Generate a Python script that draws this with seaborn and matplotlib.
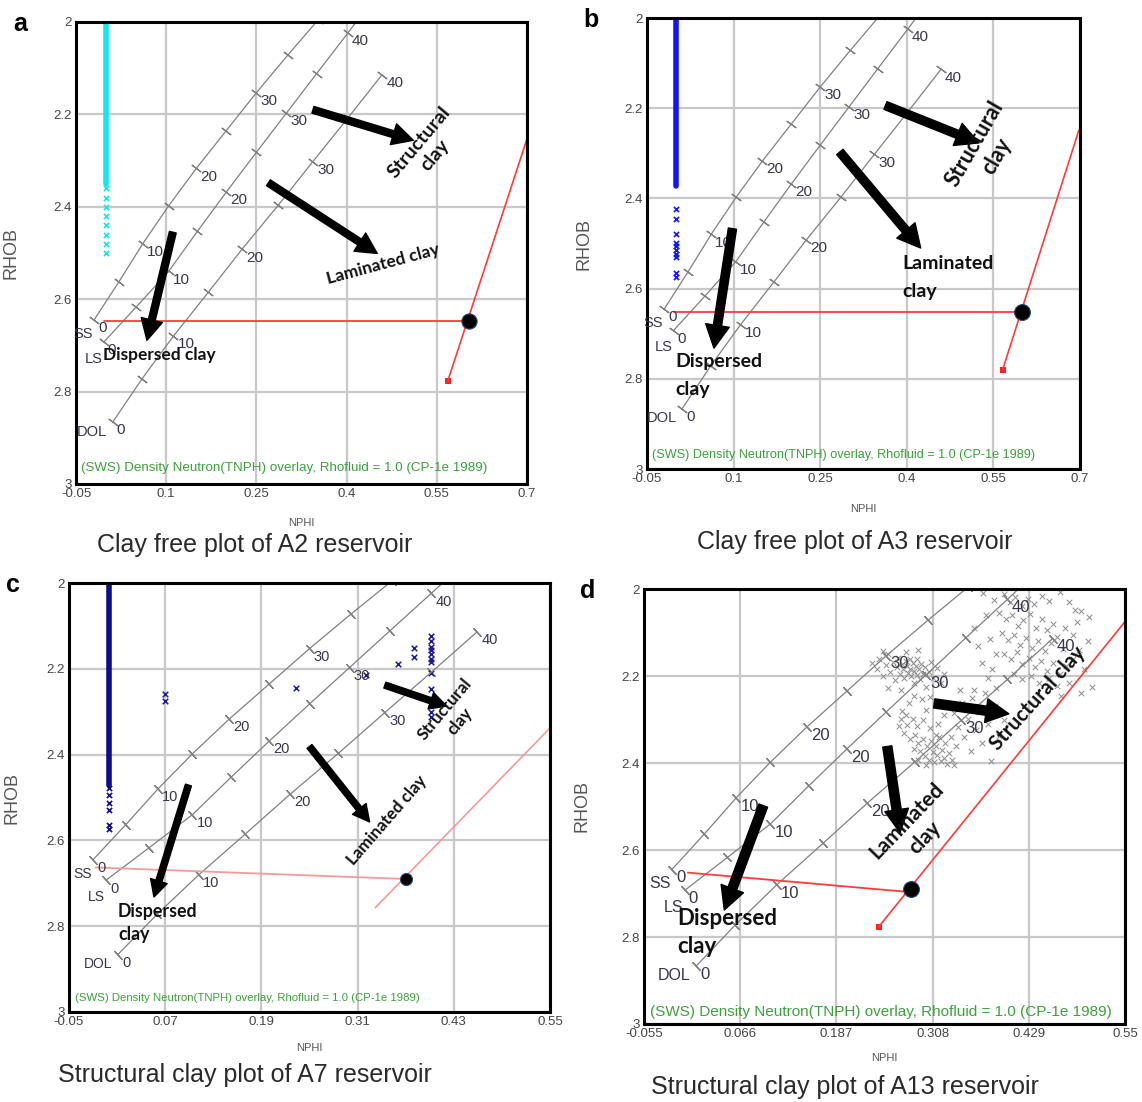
import pandas as pd
import matplotlib.pyplot as plt
import seaborn as sns

# Set style for charts
sns.set_theme(style="whitegrid", rc={'grid.color': '#c8c8c8', 'grid.linewidth': 1.6})
plt.rcParams['font.family'] = ['Liberation Sans', 'DejaVu Sans']

# === Chart overlay (SWS CP-1e), read every 5 p.u. from 0 to 40 ===
pu_labels = ['0', '10', '20', '30', '40']
ss_nphi = [-0.020, 0.021, 0.061, 0.104, 0.150, 0.200, 0.250, 0.302, 0.353]
ss_rhob = [2.645, 2.563, 2.480, 2.398, 2.317, 2.235, 2.153, 2.072, 1.995]
ls_nphi = [-0.004, 0.050, 0.104, 0.152, 0.200, 0.250, 0.300, 0.350, 0.402]
ls_rhob = [2.693, 2.617, 2.540, 2.453, 2.368, 2.282, 2.197, 2.112, 2.024]
ls_top = (0.416, 2.0)
dol_nphi = [0.011, 0.060, 0.112, 0.170, 0.226, 0.286, 0.344, 0.402, 0.459]
dol_rhob = [2.866, 2.772, 2.680, 2.585, 2.492, 2.397, 2.302, 2.208, 2.114]

rhob_ticks = [2.0, 2.2, 2.4, 2.6, 2.8, 3.0]
rhob_labels = ['2', '2.2', '2.4', '2.6', '2.8', '3']
ab_xticks = [-0.05, 0.1, 0.25, 0.4, 0.55, 0.7]
c_xticks = [-0.05, 0.07, 0.19, 0.31, 0.43, 0.55]
d_xticks = [-0.055, 0.066, 0.187, 0.308, 0.429, 0.55]

# === Red matrix line + shale line (start, dot, end) ===
a_flat_nphi, a_flat_rhob = [-0.004, 0.603], [2.648, 2.648]
a_sh_nphi, a_sh_rhob = [0.568, 0.603, 0.700], [2.778, 2.648, 2.253]
b_flat_nphi, b_flat_rhob = [-0.003, 0.600], [2.652, 2.652]
b_sh_nphi, b_sh_rhob = [0.566, 0.600, 0.698], [2.780, 2.652, 2.249]
c_flat_nphi, c_flat_rhob = [-0.017, 0.370], [2.663, 2.690]
c_sh_nphi, c_sh_rhob = [0.332, 0.370, 0.551], [2.757, 2.690, 2.336]
d_flat_nphi, d_flat_rhob = [0.000, 0.281], [2.652, 2.697]
d_sh_nphi, d_sh_rhob = [0.240, 0.281, 0.550], [2.777, 2.690, 2.075]

# === Log data ===
# solid column at NPHI ~ 0 (top, bottom) and the loose points under it
a_col = [2.0, 2.35]
a_col_pts = [2.36, 2.38, 2.40, 2.42, 2.44, 2.46, 2.48, 2.50]
b_col = [2.0, 2.372]
b_col_pts = [2.423, 2.445, 2.479, 2.499, 2.506, 2.514, 2.523, 2.530, 2.565, 2.574]
c_col = [2.0, 2.471]
c_col_pts = [2.479, 2.495, 2.512, 2.528, 2.565, 2.573]
c_pts_nphi = [0.070, 0.070, 0.233, 0.321, 0.360, 0.380, 0.380, 0.401, 0.401, 0.401,
              0.401, 0.401, 0.401, 0.401, 0.401, 0.401, 0.401, 0.401, 0.401]
c_pts_rhob = [2.259, 2.275, 2.244, 2.214, 2.189, 2.151, 2.173, 2.124, 2.136, 2.149,
              2.157, 2.165, 2.177, 2.185, 2.210, 2.247, 2.283, 2.300, 2.312]

# A13 reservoir points (NPHI, RHOB)
d_points = [
    # upper-left cluster
    (0.232, 2.170), (0.238, 2.185), (0.241, 2.160), (0.245, 2.200), (0.249, 2.175), (0.252, 2.150),
    (0.255, 2.190), (0.258, 2.168), (0.261, 2.210), (0.263, 2.180), (0.265, 2.158), (0.267, 2.195),
    (0.269, 2.172), (0.271, 2.185), (0.272, 2.205), (0.274, 2.165), (0.276, 2.178), (0.277, 2.192),
    (0.279, 2.160), (0.280, 2.183), (0.281, 2.200), (0.283, 2.170), (0.284, 2.215), (0.285, 2.188),
    (0.287, 2.176), (0.288, 2.198), (0.289, 2.162), (0.291, 2.184), (0.292, 2.208), (0.294, 2.172),
    (0.296, 2.195), (0.298, 2.180), (0.300, 2.225), (0.303, 2.190), (0.306, 2.168), (0.309, 2.205),
    (0.313, 2.182), (0.318, 2.215), (0.322, 2.195), (0.252, 2.228), (0.268, 2.232), (0.275, 2.145),
    (0.290, 2.140), (0.245, 2.142),
    # ring-shaped cluster below
    (0.285, 2.245), (0.295, 2.252), (0.305, 2.248), (0.278, 2.262), (0.312, 2.265), (0.270, 2.280),
    (0.268, 2.298), (0.266, 2.315), (0.272, 2.330), (0.276, 2.312), (0.274, 2.290), (0.280, 2.345),
    (0.286, 2.335), (0.290, 2.355), (0.284, 2.368), (0.292, 2.372), (0.296, 2.345), (0.298, 2.385),
    (0.301, 2.362), (0.304, 2.392), (0.306, 2.350), (0.308, 2.375), (0.310, 2.398), (0.312, 2.360),
    (0.314, 2.382), (0.316, 2.340), (0.318, 2.395), (0.320, 2.370), (0.322, 2.388), (0.324, 2.355),
    (0.326, 2.402), (0.329, 2.378), (0.332, 2.392), (0.335, 2.405), (0.300, 2.405), (0.290, 2.392),
    (0.288, 2.315), (0.296, 2.300), (0.305, 2.320), (0.315, 2.310), (0.322, 2.290), (0.300, 2.278),
    (0.338, 2.360), (0.283, 2.298), (0.312, 2.335),
    # loose points in between
    (0.335, 2.285), (0.340, 2.318), (0.345, 2.262), (0.348, 2.340), (0.352, 2.298), (0.356, 2.372),
    (0.358, 2.250), (0.362, 2.325), (0.366, 2.282), (0.370, 2.355), (0.374, 2.240), (0.378, 2.310),
    (0.382, 2.395), (0.386, 2.268), (0.392, 2.338), (0.398, 2.300), (0.343, 2.232), (0.360, 2.232),
    (0.331, 2.340), (0.388, 2.228),
    # upper-right cluster
    (0.372, 2.010), (0.385, 2.025), (0.398, 2.012), (0.405, 2.030), (0.412, 2.018), (0.420, 2.040),
    (0.428, 2.022), (0.436, 2.035), (0.445, 2.015), (0.455, 2.028), (0.468, 2.008), (0.480, 2.030),
    (0.495, 2.050), (0.505, 2.065), (0.490, 2.075), (0.392, 2.055), (0.400, 2.070), (0.408, 2.060),
    (0.415, 2.085), (0.422, 2.072), (0.430, 2.058), (0.438, 2.090), (0.446, 2.068), (0.452, 2.095),
    (0.460, 2.080), (0.395, 2.100), (0.403, 2.118), (0.410, 2.105), (0.418, 2.128), (0.425, 2.112),
    (0.433, 2.135), (0.441, 2.120), (0.449, 2.142), (0.457, 2.125), (0.465, 2.110), (0.472, 2.138),
    (0.398, 2.150), (0.406, 2.162), (0.414, 2.145), (0.421, 2.172), (0.429, 2.158), (0.437, 2.180),
    (0.444, 2.165), (0.452, 2.188), (0.460, 2.170), (0.468, 2.195), (0.476, 2.178), (0.484, 2.160),
    (0.410, 2.195), (0.420, 2.208), (0.432, 2.200), (0.442, 2.215), (0.455, 2.205), (0.465, 2.222),
    (0.360, 2.090), (0.365, 2.130), (0.370, 2.170), (0.375, 2.060), (0.380, 2.115), (0.383, 2.185),
    (0.388, 2.150), (0.378, 2.205), (0.485, 2.105), (0.492, 2.140), (0.498, 2.185), (0.503, 2.120),
    (0.508, 2.225), (0.495, 2.240), (0.480, 2.215), (0.470, 2.245), (0.487, 2.048), (0.475, 2.090),
]
d_df = pd.DataFrame(d_points, columns=['NPHI', 'RHOB'])

# arrows (start, end) in NPHI/RHOB: structural, laminated, dispersed
a_arrows = [((0.344, 2.190), (0.511, 2.256)), ((0.270, 2.348), (0.451, 2.501)), ((0.111, 2.455), (0.068, 2.689))]
b_arrows = [((0.363, 2.194), (0.525, 2.277)), ((0.284, 2.297), (0.424, 2.510)), ((0.098, 2.467), (0.066, 2.732))]
c_arrows = [((0.344, 2.238), (0.421, 2.287)), ((0.250, 2.381), (0.325, 2.557)), ((0.099, 2.471), (0.056, 2.732))]
d_arrows = [((0.310, 2.263), (0.404, 2.287)), ((0.251, 2.362), (0.267, 2.560)), ((0.095, 2.498), (0.046, 2.738))]

note = '(SWS) Density Neutron(TNPH) overlay, Rhofluid = 1.0 (CP-1e 1989)'

# === Panel layout (pixel boxes: left, top, width, height) ===
panels = [
    dict(letter='a', box=(76, 22, 451, 462), xlim=(-0.05, 0.7), xticks=ab_xticks, ang=53,
         flat=(a_flat_nphi, a_flat_rhob), shale=(a_sh_nphi, a_sh_rhob), red='#ff3b3b', square=True,
         dot=120, col=a_col, col_pts=a_col_pts, col_color='#14e6ee', arrows=a_arrows, aw=(20, 0.25),
         num_fs=11, note_fs=9.6, note_y=0.035, ylab=-57, xlab=-34, lsp=1.25,
         caption=('Clay free plot of A2 reservoir', 255, 545),
         texts=[('Structural\nclay', 0.534, 2.275, 50, 'center', 14),
                ('Laminated clay', 0.460, 2.524, 15, 'center', 12.5),
                ('Dispersed clay', 0.088, 2.720, 0, 'center', 12.5)]),
    dict(letter='b', box=(647, 18, 433, 451), xlim=(-0.05, 0.7), xticks=ab_xticks, ang=54,
         flat=(b_flat_nphi, b_flat_rhob), shale=(b_sh_nphi, b_sh_rhob), red='#ff3b3b', square=True,
         dot=130, col=b_col, col_pts=b_col_pts, col_color='#1414ff', arrows=b_arrows, aw=(22, 0.27),
         num_fs=11, note_fs=9.1, note_y=0.031, ylab=-55, xlab=-35, lsp=1.75,
         caption=('Clay free plot of A3 reservoir', 855, 542),
         texts=[('Structural\nclay', 0.537, 2.293, 60, 'center', 15.5),
                ('Laminated\nclay', 0.392, 2.575, 0, 'left', 14),
                ('Dispersed\nclay', 0.000, 2.793, 0, 'left', 14)]),
    dict(letter='c', box=(69, 583, 481, 429), xlim=(-0.05, 0.55), xticks=c_xticks, ang=43,
         flat=(c_flat_nphi, c_flat_rhob), shale=(c_sh_nphi, c_sh_rhob), red='#f59a9a', square=False,
         dot=75, col=c_col, col_pts=c_col_pts, col_color='#0c0c8c', arrows=c_arrows, aw=(16, 0.28),
         num_fs=10.5, note_fs=8.2, note_y=0.033, ylab=-49, xlab=-31, lsp=1.45,
         caption=('Structural clay plot of A7 reservoir', 245, 1075),
         texts=[('Structural\nclay', 0.428, 2.308, 50, 'center', 12.2),
                ('Laminated clay', 0.346, 2.553, 49, 'center', 12.2),
                ('Dispersed\nclay', 0.011, 2.793, 0, 'left', 12.8)]),
    dict(letter='d', box=(644, 589, 481, 435), xlim=(-0.055, 0.55), xticks=d_xticks, ang=44,
         flat=(d_flat_nphi, d_flat_rhob), shale=(d_sh_nphi, d_sh_rhob), red='#ff3b3b', square=True,
         dot=130, col=None, col_pts=None, col_color=None, arrows=d_arrows, aw=(22, 0.3),
         num_fs=12, note_fs=11.0, note_y=0.028, ylab=-54, xlab=-29, lsp=1.4,
         caption=('Structural clay plot of A13 reservoir', 845, 1087),
         texts=[('Structural clay', 0.440, 2.251, 48, 'center', 14.8),
                ('Laminated\nclay', 0.287, 2.552, 46, 'center', 15),
                ('Dispersed\nclay', -0.013, 2.790, 0, 'left', 16)]),
]

W, H = 1142, 1102
fig = plt.figure(figsize=(W / 100, H / 100), dpi=100)
line_gray = '#808080'
num_color = '#363646'

for p in panels:
    left, top, w, h = p['box']
    ax = fig.add_axes([left / W, 1 - (top + h) / H, w / W, h / H])
    ax.set_xlim(*p['xlim'])
    ax.set_ylim(3, 2)
    ax.set_xticks(p['xticks'])
    ax.set_xticklabels([f'{v:g}' for v in p['xticks']])
    ax.set_yticks(rhob_ticks)
    ax.set_yticklabels(rhob_labels)
    ax.set_axisbelow(True)
    ax.tick_params(length=0, labelsize=9.5, labelcolor='#444444', pad=3)
    for s in ax.spines.values():
        s.set_color('black')
        s.set_linewidth(2.2)
    ax.set_xlabel('NPHI', fontsize=8, color='#555555')
    ax.set_ylabel('RHOB', fontsize=13, color='#555555')
    ax.xaxis.set_label_coords(0.5, p['xlab'] / h)
    ax.yaxis.set_label_coords(p['ylab'] / w, 0.5)

    # chart overlay lines with porosity ticks
    for nphi, rhob, name, off in [(ss_nphi, ss_rhob, 'SS', (-1, -10)),
                                  (ls_nphi, ls_rhob, 'LS', (-1, -12)),
                                  (dol_nphi, dol_rhob, 'DOL', (-4, -7))]:
        xs, ys = list(nphi), list(rhob)
        if name == 'LS':
            xs, ys = xs + [ls_top[0]], ys + [ls_top[1]]
        sns.lineplot(x=xs, y=ys, sort=False, estimator=None, color=line_gray, lw=0.9, ax=ax)
        sns.scatterplot(x=nphi, y=rhob, marker=(2, 2, p['ang']), s=60, color=line_gray,
                        linewidth=0.9, ax=ax)
        for i, lab in zip(range(0, 9, 2), pu_labels):
            ax.annotate(lab, (nphi[i], rhob[i]), xytext=(3, -6), textcoords='offset points',
                        ha='left', va='center', fontsize=p['num_fs'], color=num_color, clip_on=True)
        ax.annotate(name, (nphi[0], rhob[0]), xytext=off, textcoords='offset points',
                    ha='right', va='center', fontsize=p['num_fs'] - 0.5, color=num_color)

    # log data
    if p['col'] is not None:
        sns.lineplot(x=[0.0, 0.0], y=p['col'], sort=False, estimator=None,
                     color=p['col_color'], lw=4, ax=ax)
        sns.scatterplot(x=[0.0] * len(p['col_pts']), y=p['col_pts'], marker='x', s=14,
                        color=p['col_color'], linewidth=1.2, ax=ax)
    if p['letter'] == 'c':
        sns.scatterplot(x=c_pts_nphi, y=c_pts_rhob, marker='x', s=16, color='#1a1a9a',
                        linewidth=1.1, ax=ax)
    if p['letter'] == 'd':
        sns.scatterplot(data=d_df, x='NPHI', y='RHOB', marker='x', s=16, color='#8c8c8c',
                        linewidth=0.7, ax=ax)

    # red matrix / shale lines
    fx, fy = p['flat']
    sx, sy = p['shale']
    sns.lineplot(x=fx, y=fy, sort=False, estimator=None, color=p['red'], lw=1.3, ax=ax)
    sns.lineplot(x=[sx[0], sx[2]], y=[sy[0], sy[2]], sort=False, estimator=None,
                 color=p['red'], lw=1.2, ax=ax)
    if p['square']:
        sns.scatterplot(x=[sx[0]], y=[sy[0]], marker='s', s=20, color='#ff2020',
                        linewidth=0, ax=ax)
    sns.scatterplot(x=[sx[1]], y=[sy[1]], marker='o', s=p['dot'], color='black',
                    edgecolor='#2a4a7a', linewidth=0.8, ax=ax, zorder=5)

    # interpretation arrows and labels
    ms, tw = p['aw']
    for start, end in p['arrows']:
        ax.annotate('', xy=end, xytext=start, zorder=6,
                    arrowprops=dict(arrowstyle=f'simple,head_width=0.78,head_length=0.75,tail_width={tw}',
                                    color='black', shrinkA=0, shrinkB=0, mutation_scale=ms))
    for txt, x, y, rot, ha, fs in p['texts']:
        ax.text(x, y, txt, rotation=rot, ha=ha, va='center', fontsize=fs, fontweight='bold',
                family=['Lato', 'DejaVu Sans'], color='#111111',
                linespacing=p['lsp'] if rot == 0 else 1.25,
                rotation_mode='anchor', zorder=7)

    ax.text(0.012, p['note_y'], note, transform=ax.transAxes, fontsize=p['note_fs'],
            color='#3ca03c', ha='left', va='center')

    cap, cx, cy = p['caption']
    fig.text(cx / W, 1 - cy / H, cap, ha='center', va='center', fontsize=18, color='#2a2a2a')
    fig.text((left - 56) / W, 1 - (top + 2) / H, p['letter'], ha='center', va='center',
             fontsize=18, fontweight='bold', color='black')

fig.savefig('out.png', dpi=100)
